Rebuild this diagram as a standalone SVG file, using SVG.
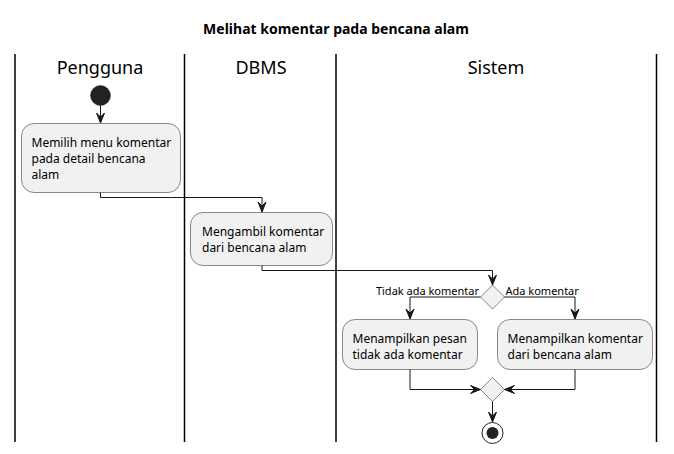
<svg xmlns="http://www.w3.org/2000/svg" width="674" height="454" viewBox="0 0 674 454">
<defs>
<style>
.lane{stroke:#000;stroke-width:1.5;fill:none}
.hdr{font-family:"Noto Sans","DejaVu Sans",sans-serif;font-size:18px;fill:#000;text-anchor:middle}
.title{font-family:"Noto Sans","DejaVu Sans",sans-serif;font-size:14px;font-weight:bold;fill:#000;text-anchor:middle}
.box{fill:#F1F1F1;stroke:#181818;stroke-width:0.5}
.t{font-family:"Noto Sans","DejaVu Sans",sans-serif;font-size:12px;fill:#000}
.lbl{font-family:"Noto Sans","DejaVu Sans",sans-serif;font-size:11px;fill:#000}
.c{fill:none;stroke:#181818;stroke-width:1}
.ah{fill:#181818;stroke:#181818;stroke-width:1}
.dia{fill:#F1F1F1;stroke:#181818;stroke-width:0.5}
</style>
</defs>
<rect width="674" height="454" fill="#FFFFFF"/>
<text class="title" x="336" y="34">Melihat komentar pada bencana alam</text>
<g id="lanes">
<line class="lane" x1="15" y1="54" x2="15" y2="442"/>
<line class="lane" x1="184.5" y1="54" x2="184.5" y2="442"/>
<line class="lane" x1="336" y1="54" x2="336" y2="442"/>
<line class="lane" x1="656.5" y1="54" x2="656.5" y2="442"/>
<text class="hdr" x="100" y="74">Pengguna</text>
<text class="hdr" x="261" y="74">DBMS</text>
<text class="hdr" x="496" y="74">Sistem</text>
</g>
<g id="start"><circle cx="100.5" cy="95.5" r="10" fill="#222222" stroke="#222222" stroke-width="0.5"/></g>
<g id="a1">
<rect class="box" x="21.5" y="123.5" width="159" height="69" rx="12.5" ry="12.5"/>
<text class="t" x="31.5" y="147">Memilih menu komentar</text>
<text class="t" x="31.5" y="163">pada detail bencana</text>
<text class="t" x="31.5" y="179">alam</text>
</g>
<g id="a2">
<rect class="box" x="190.5" y="212.5" width="142" height="53" rx="12.5" ry="12.5"/>
<text class="t" x="202" y="236">Mengambil komentar</text>
<text class="t" x="202" y="252">dari bencana alam</text>
</g>
<g id="d1"><polygon class="dia" points="492.5,285 504.5,297 492.5,309 480.5,297"/></g>
<g id="a3">
<rect class="box" x="342.5" y="319.5" width="135" height="50" rx="12.5" ry="12.5"/>
<text class="t" x="352.5" y="343">Menampilkan pesan</text>
<text class="t" x="352.5" y="359">tidak ada komentar</text>
</g>
<g id="a4">
<rect class="box" x="497.5" y="319.5" width="155" height="50" rx="12.5" ry="12.5"/>
<text class="t" x="507.5" y="343">Menampilkan komentar</text>
<text class="t" x="507.5" y="359">dari bencana alam</text>
</g>
<g id="d2"><polygon class="dia" points="492.5,377.5 504.5,389.5 492.5,401.5 480.5,389.5"/></g>
<g id="end">
<circle cx="492.5" cy="433" r="10.5" fill="none" stroke="#222222" stroke-width="1"/>
<circle cx="492.5" cy="433" r="6" fill="#222222"/>
</g>
<g id="connectors">
<polyline class="c" points="100.5,105.5 100.5,123"/>
<polygon class="ah" points="96.5,113 100.5,123 104.5,113 100.5,117"/>
<polyline class="c" points="100.5,192.5 100.5,197.5 262,197.5 262,212"/>
<polygon class="ah" points="258,202 262,212 266,202 262,206"/>
<polyline class="c" points="262,265.5 262,270.5 492.5,270.5 492.5,285"/>
<polygon class="ah" points="488.5,275 492.5,285 496.5,275 492.5,279"/>
<polyline class="c" points="480.5,297 410,297 410,319"/>
<polygon class="ah" points="406,309 410,319 414,309 410,313"/>
<text class="lbl" x="479" y="295" text-anchor="end">Tidak ada komentar</text>
<polyline class="c" points="504.5,297 575,297 575,319"/>
<polygon class="ah" points="571,309 575,319 579,309 575,313"/>
<text class="lbl" x="505.5" y="295">Ada komentar</text>
<polyline class="c" points="410,369.5 410,389.5 480.5,389.5"/>
<polygon class="ah" points="470.5,385.5 480.5,389.5 470.5,393.5 474.5,389.5"/>
<polyline class="c" points="575,369.5 575,389.5 504.5,389.5"/>
<polygon class="ah" points="514.5,385.5 504.5,389.5 514.5,393.5 510.5,389.5"/>
<polyline class="c" points="492.5,401.5 492.5,422"/>
<polygon class="ah" points="488.5,412 492.5,422 496.5,412 492.5,416"/>
</g>
</svg>
